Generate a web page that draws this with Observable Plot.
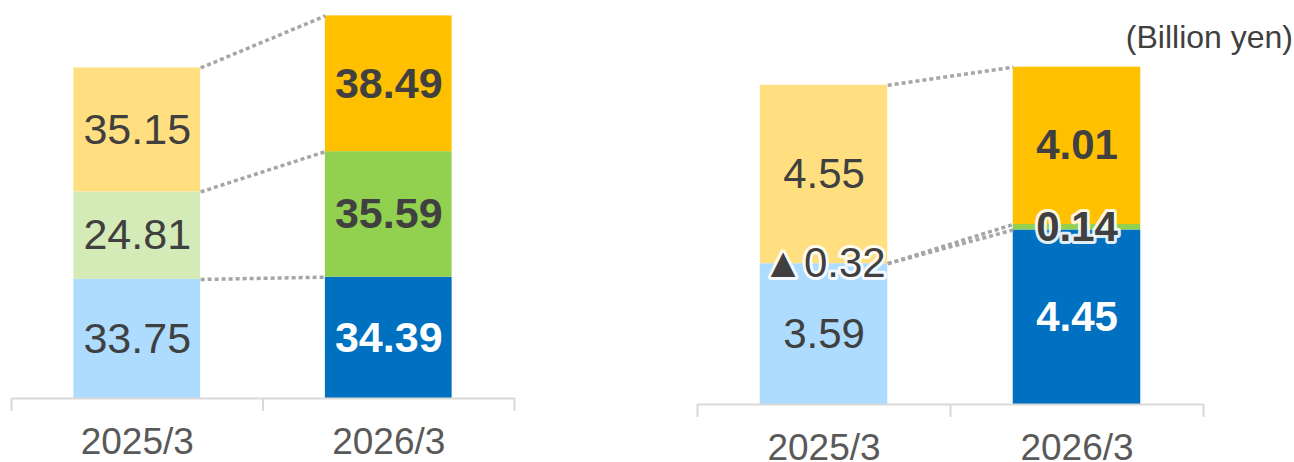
<!DOCTYPE html>
<html><head><meta charset="utf-8">
<script src="https://cdn.jsdelivr.net/npm/d3@7"></script>
<script src="https://cdn.jsdelivr.net/npm/@observablehq/plot@0.6"></script>
<style>
html,body{margin:0;padding:0;background:#fff;}
#wrap{position:relative;width:1294px;height:462px;overflow:hidden;font-family:"Liberation Sans",Arial,sans-serif;}
#left{position:absolute;left:0;top:0;}
#right{position:absolute;left:600px;top:0;}
#unit{position:absolute;right:1px;top:19px;font-size:32px;color:#404040;line-height:normal;white-space:nowrap;}
</style></head><body>
<div id="wrap"><div id="left"></div><div id="right"></div><div id="unit">(Billion yen)</div></div>
<script>
// ---- data ----
const categories = ["2025/3", "2026/3"];
const leftValues2025 = [33.75, 24.81, 35.15];
const leftValues2026 = [34.39, 35.59, 38.49];
const rightValues2025 = [3.59, -0.32, 4.55];
const rightValues2026 = [4.45, 0.14, 4.01];
const colors2025 = ["#ADDCFF", "#D4EBB8", "#FFDF80"];
const colors2026 = ["#0070C0", "#92D050", "#FFC000"];

const HW = 0.252; // half bar width in category units
const FONT = "Liberation Sans, Arial, sans-serif";

function stack(values2025, values2026) {
  const rows = [];
  const tops = [[], []];
  [values2025, values2026].forEach((vals, i) => {
    let acc = 0;
    vals.forEach((v, k) => {
      const y1 = acc;
      if (v > 0) acc += v;
      const y2 = acc;
      rows.push({
        i, k, v, y1, y2,
        ym: v > 0 ? (y1 + y2) / 2 : acc,
        label: v < 0 ? "\u25B2" + Math.abs(v).toFixed(2) : v.toFixed(2),
        fill: i === 0 ? colors2025[k] : colors2026[k],
        textFill: (i === 1 && k === 0) ? "#FFFFFF" : "#404040",
        halo: Math.abs(v) < 1
      });
      tops[i].push(acc);
    });
  });
  const links = tops[0].map((a, k) => ({k, a, b: tops[1][k]}));
  return {rows, links};
}

function chart(values2025, values2026, o) {
  const {rows, links} = stack(values2025, values2026);
  const textMarks = [];
  for (const i of [0, 1]) {
    for (const halo of [false, true]) {
      const sel = rows.filter(d => d.i === i && d.halo === halo);
      if (!sel.length) continue;
      textMarks.push(Plot.text(sel, {
        x: "i", y: "ym", text: "label", fill: "textFill",
        fontSize: o.fontSize, fontWeight: i === 1 ? "bold" : "normal",
        ...(halo ? {stroke: "white", strokeWidth: 6, strokeOpacity: 0.9, strokeLinejoin: "round"} : {})
      }));
    }
  }
  return Plot.plot({
    width: o.width, height: 462,
    marginLeft: o.marginLeft, marginRight: o.marginRight,
    marginTop: o.marginTop, marginBottom: o.marginBottom,
    x: {type: "linear", domain: [-0.5, 1.5], label: null},
    y: {domain: [0, o.yMax], axis: null},
    style: {fontFamily: FONT, background: "white", overflow: "visible"},
    marks: [
      Plot.rect(rows.filter(d => d.v > 0), {
        x1: d => d.i - HW, x2: d => d.i + HW, y1: "y1", y2: "y2", fill: "fill"
      }),
      Plot.link(links, {
        x1: () => HW, x2: () => 1 - HW, y1: "a", y2: "b",
        stroke: "#A6A6A6", strokeWidth: 3.5, strokeDasharray: "4,3"
      }),
      Plot.ruleY([0], {stroke: "#D9D9D9", strokeWidth: 2}),
      Plot.axisX({ticks: [-0.5, 0.5, 1.5], tickSize: 13, tickFormat: () => "",
        stroke: "#D9D9D9", strokeWidth: 2, label: null}),
      Plot.axisX({ticks: [0, 1], tickSize: 0, tickPadding: 29, label: null,
        tickFormat: i => categories[i], fontSize: 37, fill: "#595959"}),
      ...textMarks
    ]
  });
}

document.getElementById("left").append(chart(leftValues2025, leftValues2026, {
  width: 600, marginLeft: 11, marginRight: 86, marginTop: 10, marginBottom: 64, yMax: 110, fontSize: 43
}));
document.getElementById("right").append(chart(rightValues2025, rightValues2026, {
  width: 694, marginLeft: 97, marginRight: 91, marginTop: 51, marginBottom: 58, yMax: 9, fontSize: 42
}));
</script>
</body></html>
